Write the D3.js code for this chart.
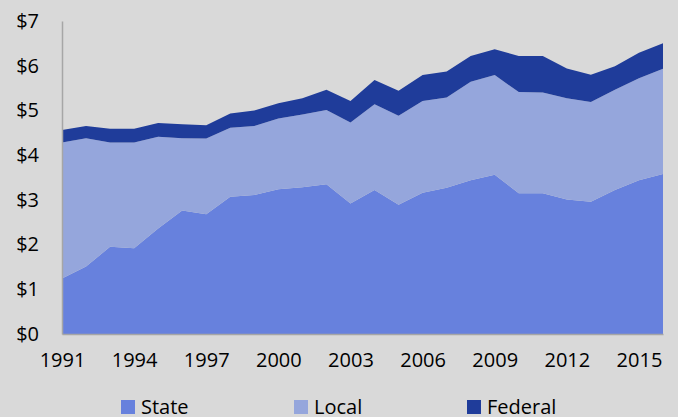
<!DOCTYPE html>
<html>
<head>
<meta charset="utf-8">
<script src="https://cdnjs.cloudflare.com/ajax/libs/d3/7.8.5/d3.min.js"></script>
<style>
  body { margin: 0; background: #d9d9d9; }
  svg { display: block; font-family: "Open Sans", sans-serif; }
</style>
</head>
<body>
<svg id="chart"></svg>
<script>
// years along the x axis
var years = d3.range(1991, 2017);

// dollar amounts per series (stacked: state at the bottom)
var state = [1.24,1.51,1.95,1.92,2.36,2.76,2.68,3.07,3.11,3.24,3.28,3.35,2.92,3.22,2.89,3.16,3.27,3.44,3.56,3.15,3.15,3.01,2.96,3.22,3.44,3.58];
var local = [3.04,2.87,2.33,2.36,2.05,1.62,1.69,1.54,1.54,1.58,1.63,1.66,1.81,1.92,1.99,2.05,2.02,2.20,2.23,2.26,2.25,2.26,2.23,2.24,2.28,2.35];
var federal = [0.28,0.27,0.31,0.31,0.31,0.31,0.30,0.32,0.35,0.34,0.36,0.45,0.48,0.54,0.56,0.58,0.58,0.58,0.58,0.81,0.82,0.67,0.61,0.53,0.57,0.57];

var seriesNames = ["State", "Local", "Federal"];
var colors = ["#6781dd", "#95a6dc", "#1f3c9a"];

var xTicks = [1991,1994,1997,2000,2003,2006,2009,2012,2015];
var yTicks = [0,1,2,3,4,5,6,7];

var screen = {width:678, height:417};
var margins = {top:21, left:62, right:15, bottom:83};
var graph = {
    width: screen.width - margins.left - margins.right,
    height: screen.height - margins.top - margins.bottom
};

// build rows for d3.stack
var rows = years.map(function(y, i) {
    return {year:y, State:state[i], Local:local[i], Federal:federal[i]};
});
var stacked = d3.stack().keys(seriesNames)(rows);

var xScale = d3.scaleLinear().domain([1991, 2016]).range([0, graph.width]);
var yScale = d3.scaleLinear().domain([0, 7]).range([graph.height, 0]);

var svg = d3.select("#chart")
    .attr("width", screen.width)
    .attr("height", screen.height);

var g = svg.append("g")
    .attr("transform", "translate(" + margins.left + "," + margins.top + ")");

var area = d3.area()
    .x(function(d) { return xScale(d.data.year); })
    .y0(function(d) { return yScale(d[0]); })
    .y1(function(d) { return yScale(d[1]); });

g.selectAll("path.layer")
    .data(stacked)
    .enter()
    .append("path")
    .attr("class", "layer")
    .attr("d", area)
    .attr("fill", function(d, i) { return colors[i]; });

// axes
var xAxis = d3.axisBottom(xScale)
    .tickValues(xTicks)
    .tickFormat(d3.format("d"))
    .tickSize(0)
    .tickPadding(19);
var yAxis = d3.axisLeft(yScale)
    .tickValues(yTicks)
    .tickFormat(function(d) { return "$" + d; })
    .tickSize(0)
    .tickPadding(23);

var xg = g.append("g")
    .attr("transform", "translate(0," + graph.height + ")")
    .call(xAxis);
var yg = g.append("g").call(yAxis);

[xg, yg].forEach(function(a) {
    a.select(".domain").attr("stroke", "#a6a6a6").attr("stroke-width", 1.5);
    a.selectAll("text").attr("fill", "#000").style("font-size", "20px").style("font-family", "'Open Sans', sans-serif");
});

// legend
var legendX = [121, 294, 467];
var legend = svg.selectAll("g.legend")
    .data(seriesNames)
    .enter()
    .append("g")
    .attr("class", "legend")
    .attr("transform", function(d, i) { return "translate(" + legendX[i] + ",400)"; });
legend.append("rect")
    .attr("width", 14).attr("height", 14)
    .attr("fill", function(d, i) { return colors[i]; });
legend.append("text")
    .attr("x", 20).attr("y", 14)
    .style("font-size", "20px")
    .text(function(d) { return d; });
</script>
</body>
</html>
